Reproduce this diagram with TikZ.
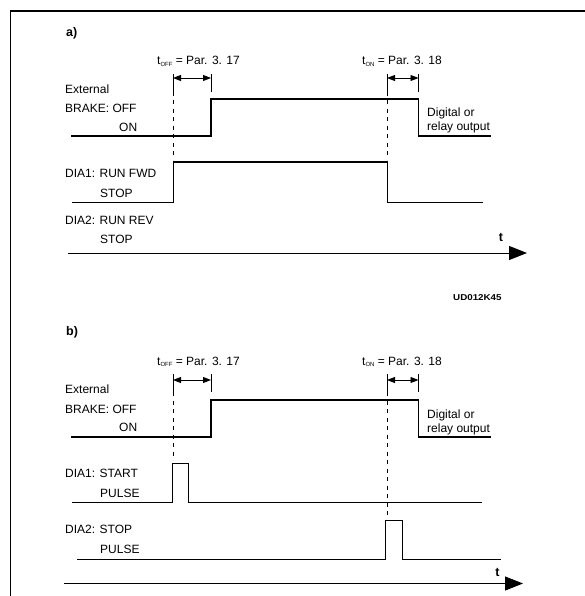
\documentclass[tikz,border=0pt]{standalone}
\usepackage{fontspec}
\setmainfont{Liberation Sans}
\usetikzlibrary{arrows.meta}
\newcommand{\subtxt}[1]{\raisebox{-1.6pt}{\fontsize{6}{7}\selectfont #1}}
\begin{document}
\begin{tikzpicture}[x=1pt,y=-1pt,
  lbl/.style={anchor=base west,inner sep=0pt,font=\fontsize{12}{14}\selectfont},
  hdr/.style={anchor=base west,inner sep=0pt,font=\fontsize{12.5}{14}\selectfont\bfseries},
  brakesig/.style={line width=1.6pt,line join=miter},
  sig/.style={line width=1pt,line join=miter},
  tick/.style={line width=0.9pt},
  dashln/.style={line width=0.9pt,dash pattern=on 4pt off 4.5pt},
  dimarr/.style={line width=0.9pt,{Triangle[length=8pt,width=6pt]}-{Triangle[length=8pt,width=6pt]}},
  axis/.style={line width=1pt,-{Triangle[length=18pt,width=14pt]}}]
\useasboundingbox (0,0) rectangle (585,596);
% frame
\coordinate (ftl) at (10,11);
\coordinate (ftr) at (585,11);
\coordinate (fbl) at (10,596);
\draw[line width=1.5pt] (ftr) -- (ftl);
\draw[line width=1pt] (ftl) -- (fbl);

% ================= a) =================
\node[hdr] (la) at (66,37) {a)};
\node[lbl] (toffa) at (157,65) {t\subtxt{OFF} = Par. 3. 17};
\node[lbl] (tona) at (362,65) {t\subtxt{ON} = Par. 3. 18};
\node[lbl] (exta) at (65,93.5) {External};
\node[lbl] (brka) at (65,113) {BRAKE: OFF};
\node[lbl] (ona) at (119,131.5) {ON};
\node[lbl] (diga) at (427,116.5) {Digital or};
\node[lbl] (rela) at (427,131) {relay output};
\node[lbl] (d1a) at (65,177.5) {DIA1: RUN FWD};
\node[lbl] (s1a) at (100,197) {STOP};
\node[lbl] (d2a) at (65,224) {DIA2: RUN REV};
\node[lbl] (s2a) at (100,243) {STOP};
\node[hdr,anchor=base] (ta) at (501,241.7) {t};
\node[anchor=base west,inner sep=0pt,font=\fontsize{8.5}{10}\selectfont\bfseries,xscale=1.15] (code) at (453,300.7) {UD012K45};

% ticks and dashed guides
\draw[tick] (173,74) coordinate (a1t) -- (173,92) coordinate (a1b);
\draw[dashln] (a1b) -- (173,160);
\draw[tick] (211,74) coordinate (a2t) -- (211,92);
\draw[tick] (387,74) coordinate (a3t) -- (387,92) coordinate (a3b);
\draw[dashln] (a3b) -- (387,160);
\draw[tick] (418.5,74) coordinate (a4t) -- (418.5,92);
\coordinate (aarr1) at (173,78); \coordinate (aarr2) at (211,78);
\coordinate (aarr3) at (387,78); \coordinate (aarr4) at (418.5,78);
\draw[dimarr] (aarr1) -- (aarr2);
\draw[dimarr] (aarr3) -- (aarr4);

% signals
\draw[brakesig] (71,136) -- (211,136) -- (211,99) -- (418.5,99) -- (418.5,136) -- (491,136);
\draw[sig] (72,202) -- (173,202) -- (173,162) -- (387,162) -- (387,202) -- (483,202);
\coordinate (axa0) at (68,253); \coordinate (axa1) at (527,253);
\draw[axis] (axa0) -- (axa1);

% ================= b) =================
\node[hdr] (lb) at (66,335) {b)};
\node[lbl] (toffb) at (157,365) {t\subtxt{OFF} = Par. 3. 17};
\node[lbl] (tonb) at (362,365) {t\subtxt{ON} = Par. 3. 18};
\node[lbl] (extb) at (65,393.5) {External};
\node[lbl] (brkb) at (65,413) {BRAKE: OFF};
\node[lbl] (onb) at (119,431.5) {ON};
\node[lbl] (digb) at (427,418.5) {Digital or};
\node[lbl] (relb) at (427,432.5) {relay output};
\node[lbl] (d1b) at (65,477.7) {DIA1: START};
\node[lbl] (p1b) at (100,497.7) {PULSE};
\node[lbl] (d2b) at (65,533.7) {DIA2: STOP};
\node[lbl] (p2b) at (100,553.7) {PULSE};
\node[hdr,anchor=base] (tb) at (497.5,576.7) {t};

\draw[tick] (173,374) coordinate (b1t) -- (173,392) coordinate (b1b);
\draw[dashln] (b1b) -- (173,460);
\draw[tick] (211,374) coordinate (b2t) -- (211,392);
\draw[tick] (387,374) coordinate (b3t) -- (387,392) coordinate (b3b);
\draw[dashln] (b3b) -- (387,517);
\draw[tick] (418.5,374) coordinate (b4t) -- (418.5,392);
\coordinate (barr1) at (173,380); \coordinate (barr2) at (211,380);
\coordinate (barr3) at (387,380); \coordinate (barr4) at (418.5,380);
\draw[dimarr] (barr1) -- (barr2);
\draw[dimarr] (barr3) -- (barr4);

\draw[brakesig] (71,437) -- (211,437) -- (211,400) -- (418.5,400) -- (418.5,437) -- (491,437);
\draw[sig] (72,502) -- (172.5,502) -- (172.5,463) -- (188,463) -- (188,502) -- (482,502);
\draw[sig] (77,559) -- (385,559) -- (385,520) -- (402,520) -- (402,559) -- (501,559);
\coordinate (axb0) at (64,583.5); \coordinate (axb1) at (523,583.5);
\draw[axis] (axb0) -- (axb1);
\end{tikzpicture}
\end{document}
